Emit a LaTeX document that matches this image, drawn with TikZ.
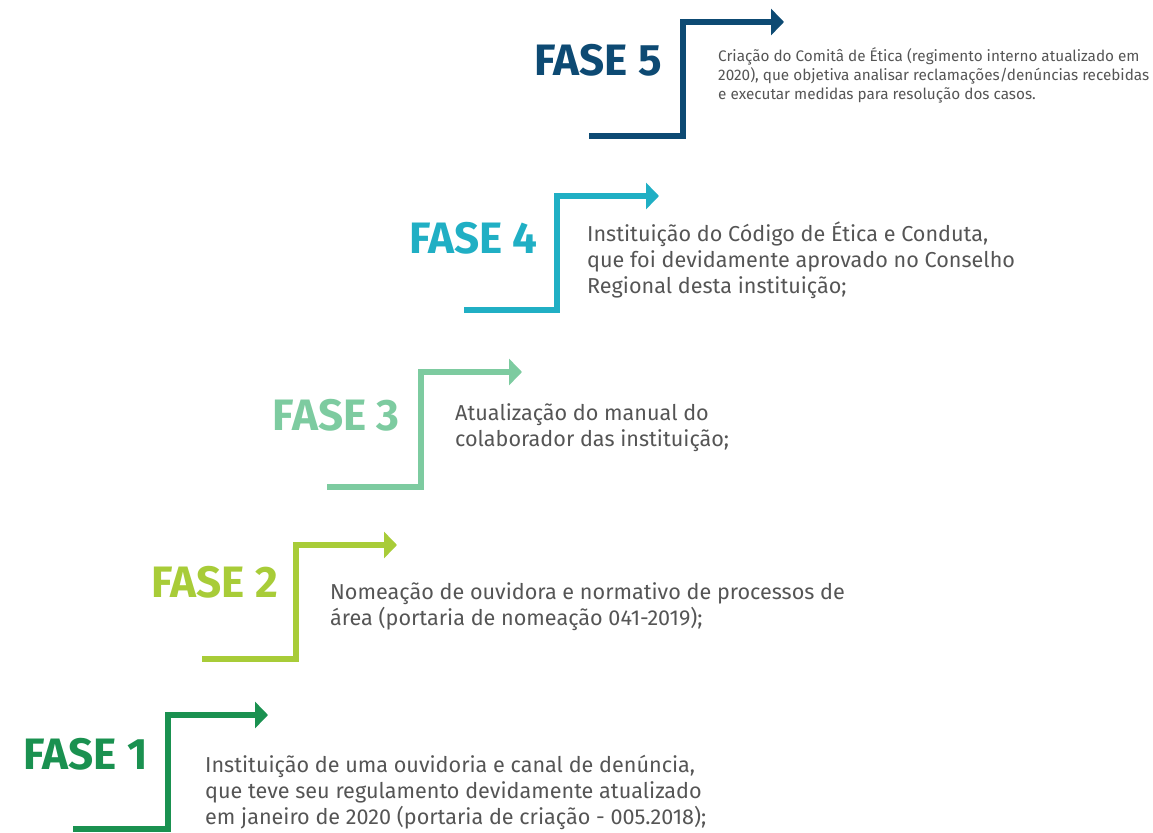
\documentclass[tikz,border=0pt]{standalone}
\usepackage{fontspec}
\setmainfont{Fira Sans}
\usetikzlibrary{arrows.meta}
\definecolor{cfive}{RGB}{13,74,115}
\definecolor{cfour}{RGB}{32,175,196}
\definecolor{cthree}{RGB}{125,203,160}
\definecolor{ctwo}{RGB}{168,204,56}
\definecolor{cone}{RGB}{26,145,80}
\definecolor{txt}{RGB}{85,85,85}
\tikzset{
  stepline/.style={line width=6pt, line join=miter, -{Triangle[length=13pt,width=26pt]}, draw=#1},
  phase/.style={anchor=east, inner sep=0pt, font=\fontsize{44}{44}\selectfont\bfseries, text=#1},
  desc/.style={anchor=base west, inner sep=0pt, align=left, text=txt, font=\fontsize{21.6}{26}\selectfont},
  descsmall/.style={anchor=base west, inner sep=0pt, align=left, text=txt, font=\fontsize{15.3}{19.5}\selectfont},
}
\begin{document}
\begin{tikzpicture}[x=1pt,y=-1pt]
\useasboundingbox (0,0) rectangle (1153,832);
% coordinates of steps
\coordinate (a5) at (589,136); \coordinate (b5) at (683,22); \coordinate (t5) at (784,22);
\coordinate (a4) at (464,310); \coordinate (b4) at (557,196); \coordinate (t4) at (659,196);
\coordinate (a3) at (327,487); \coordinate (b3) at (421,372); \coordinate (t3) at (522,372);
\coordinate (a2) at (202,659); \coordinate (b2) at (296,545); \coordinate (t2) at (397,545);
\coordinate (a1) at (73,829);  \coordinate (b1) at (168,715); \coordinate (t1) at (268,715);
\draw[stepline=cfive]  (a5) -| (b5) -- (t5);
\draw[stepline=cfour]  (a4) -| (b4) -- (t4);
\draw[stepline=cthree] (a3) -| (b3) -- (t3);
\draw[stepline=ctwo]   (a2) -| (b2) -- (t2);
\draw[stepline=cone]   (a1) -| (b1) -- (t1);
% phase labels
\node[phase=cfive]  (f5) at (662,60)  {FASE 5};
\node[phase=cfour]  (f4) at (538,238) {FASE 4};
\node[phase=cthree] (f3) at (400,415) {FASE 3};
\node[phase=ctwo]   (f2) at (278,582) {FASE 2};
\node[phase=cone]   (f1) at (148,754) {FASE 1};
% descriptions (base anchor = baseline of last line)
\node[descsmall] (d5) at (718,100) {Criação do Comitâ de Ética (regimento interno atualizado em\\2020), que objetiva analisar reclamações/denúncias recebidas\\e executar medidas para resolução dos casos.};
\node[desc] (d4) at (587,293) {Instituição do Código de Ética e Conduta,\\que foi devidamente aprovado no Conselho\\Regional desta instituição;};
\node[desc] (d3) at (455,446) {Atualização do manual do\\colaborador das instituição;};
\node[desc] (d2) at (330,625) {Nomeação de ouvidora e normativo de processos de\\área (portaria de nomeação 041-2019);};
\node[desc] (d1) at (205,824) {Instituição de uma ouvidoria e canal de denúncia,\\que teve seu regulamento devidamente atualizado\\em janeiro de 2020 (portaria de criação - 005.2018);};
\end{tikzpicture}
\end{document}
